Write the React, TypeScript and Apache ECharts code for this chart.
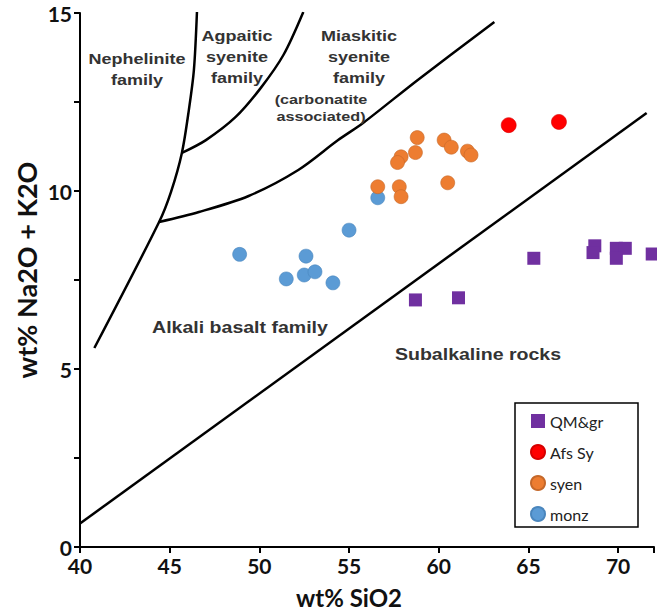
import React, { useEffect, useRef } from "react";
import * as echarts from "echarts";

// Sample compositions: SiO2 (wt%) and total alkalis Na2O + K2O (wt%)
const qmgrSiO2 = [58.7, 61.1, 65.3, 68.7, 68.6, 69.9, 70.4, 69.9, 71.9];
const qmgrAlk = [6.94, 7.0, 8.11, 8.46, 8.27, 8.39, 8.39, 8.11, 8.23];
const afsSiO2 = [63.9, 66.7];
const afsAlk = [11.85, 11.94];
const syenSiO2 = [58.8, 60.3, 60.7, 61.6, 61.8, 58.7, 57.9, 57.7, 56.6, 57.8, 57.9, 60.5];
const syenAlk = [11.5, 11.43, 11.23, 11.12, 11.01, 11.08, 10.96, 10.8, 10.12, 10.12, 9.84, 10.23];
const monzSiO2 = [56.6, 55.0, 48.9, 52.6, 51.5, 52.5, 53.1, 54.1];
const monzAlk = [9.81, 8.9, 8.22, 8.17, 7.53, 7.64, 7.73, 7.42];

// Field boundaries of the classification diagram
const nephSiO2 = [40.8, 44.41, 45.07, 45.68, 46.07, 46.35, 46.52];
const nephAlk = [5.59, 9.13, 9.97, 11.07, 12.28, 13.4, 15.03];
const agpSiO2 = [45.68, 47.02, 48.68, 50.07, 51.34, 52.45];
const agpAlk = [11.07, 11.43, 12.08, 12.89, 13.82, 15.03];
const miaSiO2 = [44.41, 46.63, 49.4, 52.17, 54.39, 55.78, 58.83, 63.1];
const miaAlk = [9.13, 9.41, 9.86, 10.59, 11.43, 11.91, 13.12, 14.75];
const subSiO2 = [40, 71.59];
const subAlk = [0.66, 12.19];

const zip = (xs: number[], ys: number[]) => xs.map((x, i) => [x, ys[i]]);

const boundary = (xs: number[], ys: number[]) => ({
  type: "line",
  data: zip(xs, ys),
  showSymbol: false,
  smooth: 0.3,
  silent: true,
  lineStyle: { color: "#000", width: 2.5 },
  z: 1,
});

const fieldText = (
  text: string,
  x: number,
  y: number,
  size: number,
  lh: number,
  sx = 1.2
) => ({
  type: "text",
  x,
  y,
  scaleX: sx,
  style: {
    text,
    fill: "#333",
    font: `bold ${size}px "Liberation Sans", Arial, sans-serif`,
    align: "center",
    verticalAlign: "middle",
    lineHeight: lh,
  },
  z: 5,
});

export default function App() {
  const ref = useRef<HTMLDivElement>(null);

  useEffect(() => {
    if (!ref.current) return;
    const chart = echarts.init(ref.current, null, { renderer: "svg" });
    const tickFont = {
      fontFamily: "Lato, sans-serif",
      fontWeight: "bold" as const,
      fontSize: 21,
      color: "#111",
    };
    chart.setOption({
      animation: false,
      backgroundColor: "#fff",
      grid: { left: 80, top: 13, right: 0, bottom: 66, containLabel: false },
      xAxis: {
        type: "value",
        min: 40,
        max: 72,
        interval: 5,
        splitLine: { show: false },
        axisLine: { lineStyle: { color: "#000", width: 2 } },
        axisTick: { length: 6, lineStyle: { color: "#000", width: 2 } },
        axisLabel: {
          ...tickFont,
          margin: 8,
          formatter: (v: number) => (v % 5 === 0 ? String(v) : ""),
        },
      },
      yAxis: {
        type: "value",
        min: 0,
        max: 15,
        interval: 2.5,
        splitLine: { show: false },
        axisLine: { lineStyle: { color: "#000", width: 2 } },
        axisTick: { length: 6, lineStyle: { color: "#000", width: 2 } },
        axisLabel: {
          ...tickFont,
          margin: 8,
          formatter: (v: number) => (v % 5 === 0 ? String(v) : ""),
        },
      },
      legend: {
        orient: "vertical",
        left: 530,
        top: 413,
        padding: 0,
        itemGap: 15,
        itemWidth: 14,
        itemHeight: 14,
        data: ["QM&gr", "Afs Sy", "syen", "monz"],
        textStyle: { fontFamily: "Lato, sans-serif", fontSize: 16, color: "#222" },
        z: 10,
      },
      graphic: [
        {
          type: "rect",
          shape: { x: 515, y: 403, width: 123, height: 124 },
          style: { fill: "#fff", stroke: "#000", lineWidth: 1.5 },
          z: 0,
        },
        fieldText("Nephelinite\nfamily", 137, 70, 15, 21),
        fieldText("Agpaitic\nsyenite\nfamily", 237, 57, 15, 21),
        fieldText("Miaskitic\nsyenite\nfamily", 359, 57, 15, 21),
        fieldText("(carbonatite\nassociated)", 321, 108, 13.5, 17),
        fieldText("Alkali basalt family", 240, 327, 17, 20, 1.15),
        fieldText("Subalkaline rocks", 478, 354, 17, 20, 1.15),
        {
          type: "text",
          x: 349,
          y: 597,
          style: {
            text: "wt% SiO2",
            fill: "#111",
            font: "bold 24px Lato, sans-serif",
            align: "center",
            verticalAlign: "middle",
          },
        },
        {
          type: "text",
          x: 26,
          y: 270,
          rotation: Math.PI / 2,
          style: {
            text: "wt% Na2O + K2O",
            fill: "#111",
            font: "bold 27px Lato, sans-serif",
            align: "center",
            verticalAlign: "middle",
          },
        },
      ],
      series: [
        boundary(nephSiO2, nephAlk),
        boundary(agpSiO2, agpAlk),
        boundary(miaSiO2, miaAlk),
        boundary(subSiO2, subAlk),
        {
          name: "monz",
          type: "scatter",
          symbol: "circle",
          symbolSize: 14,
          data: zip(monzSiO2, monzAlk),
          itemStyle: { color: "#5B9BD5", borderColor: "#4a86bd", borderWidth: 0.6, opacity: 1 },
          z: 3,
        },
        {
          name: "syen",
          type: "scatter",
          symbol: "circle",
          symbolSize: 14,
          data: zip(syenSiO2, syenAlk),
          itemStyle: { color: "#ED7D31", borderColor: "#c5682a", borderWidth: 0.6, opacity: 1 },
          z: 3,
        },
        {
          name: "Afs Sy",
          type: "scatter",
          symbol: "circle",
          symbolSize: 15,
          data: zip(afsSiO2, afsAlk),
          itemStyle: { color: "#FF0000", borderColor: "#d60000", borderWidth: 0.6, opacity: 1 },
          z: 3,
        },
        {
          name: "QM&gr",
          type: "scatter",
          symbol: "rect",
          symbolSize: 13,
          data: zip(qmgrSiO2, qmgrAlk),
          itemStyle: { color: "#7030A0", opacity: 1 },
          z: 3,
        },
      ],
    });
    return () => chart.dispose();
  }, []);

  return (
    <div
      ref={ref}
      style={{ position: "fixed", left: 0, top: 0, width: 657, height: 613 }}
    />
  );
}
